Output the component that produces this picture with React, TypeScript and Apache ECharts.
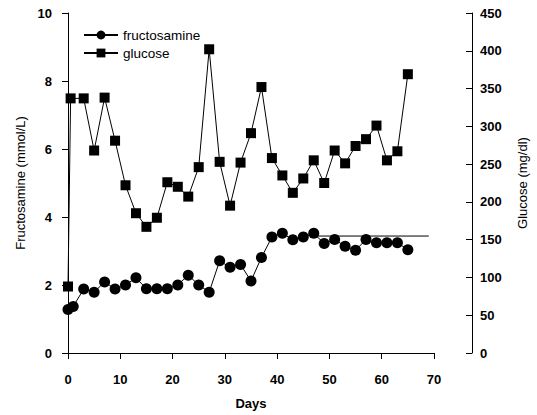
import React, { useEffect, useRef } from "react";
import * as echarts from "echarts";

const fructoDays = [0, 1, 3, 5, 7, 9, 11, 13, 15, 17, 19, 21, 23, 25, 27, 29, 31, 33, 35, 37, 39, 41, 43, 45, 47, 49, 51, 53, 55, 57, 59, 61, 63, 65];
const fructosamine = [1.28, 1.37, 1.88, 1.79, 2.09, 1.88, 2.0, 2.21, 1.89, 1.89, 1.89, 2.0, 2.29, 2.0, 1.79, 2.71, 2.52, 2.6, 2.12, 2.81, 3.41, 3.52, 3.33, 3.41, 3.52, 3.22, 3.34, 3.14, 3.02, 3.34, 3.24, 3.24, 3.24, 3.04];
const glucoseDays = [0, 0.5, 3, 5, 7, 9, 11, 13, 15, 17, 19, 21, 23, 25, 27, 29, 31, 33, 35, 37, 39, 41, 43, 45, 47, 49, 51, 53, 55, 57, 59, 61, 63, 65];
const glucose = [88, 337, 337, 268, 338, 281, 222, 185, 167, 179, 226, 220, 207, 246, 402, 253, 195, 252, 291, 352, 258, 235, 212, 231, 255, 225, 268, 251, 274, 283, 301, 255, 267, 369];
const refLineDays = [47, 69];
const refLineValue = 3.44;

const FONT = "Liberation Sans";

export default function App() {
  const ref = useRef<HTMLDivElement>(null);
  useEffect(() => {
    if (!ref.current) return;
    const chart = echarts.init(ref.current, undefined, { renderer: "svg" });
    const axisText = { color: "#000", fontFamily: FONT, fontSize: 13 };
    chart.setOption({
      animation: false,
      backgroundColor: "#fff",
      grid: { left: 68, right: 103, top: 13, bottom: 58 },
      legend: {
        data: ["fructosamine", "glucose"],
        orient: "vertical",
        left: 78,
        top: 23,
        itemWidth: 34,
        itemHeight: 11,
        itemGap: 4,
        textStyle: { color: "#000", fontFamily: FONT, fontSize: 13.5 },
      },
      xAxis: {
        type: "value",
        min: 0,
        max: 70,
        interval: 10,
        name: "Days",
        nameLocation: "middle",
        nameGap: 44,
        nameTextStyle: { ...axisText, fontSize: 13, fontWeight: "bold" },
        axisLine: { lineStyle: { color: "#000", width: 1 } },
        axisTick: { length: 6, lineStyle: { color: "#000" } },
        axisLabel: { ...axisText, margin: 20, fontWeight: "bold" },
        splitLine: { show: false },
      },
      yAxis: [
        {
          type: "value",
          min: 0,
          max: 10,
          interval: 2,
          position: "left",
          name: "Fructosamine (mmol/L)",
          nameLocation: "middle",
          nameGap: 40,
          nameTextStyle: { ...axisText, fontSize: 13 },
          axisLine: { show: true, lineStyle: { color: "#000", width: 1 } },
          axisTick: { show: true, length: 6, lineStyle: { color: "#000" } },
          axisLabel: { ...axisText, margin: 16, fontWeight: "bold" },
          splitLine: { show: false },
        },
        {
          type: "value",
          min: 0,
          max: 450,
          interval: 50,
          position: "right",
          offset: 38,
          name: "Glucose (mg/dl)",
          nameLocation: "middle",
          nameGap: 44,
          nameTextStyle: { ...axisText, fontSize: 13 },
          axisLine: { show: true, lineStyle: { color: "#000", width: 1 } },
          axisTick: { show: true, inside: true, length: 6, lineStyle: { color: "#000" } },
          axisLabel: { ...axisText, margin: 8, fontWeight: "bold" },
          splitLine: { show: false },
        },
      ],
      series: [
        {
          name: "fructosamine",
          type: "line",
          yAxisIndex: 0,
          data: fructoDays.map((d, i) => [d, fructosamine[i]]),
          symbol: "circle",
          symbolSize: 11,
          itemStyle: { color: "#000" },
          lineStyle: { color: "#000", width: 1 },
          z: 3,
        },
        {
          name: "glucose",
          type: "line",
          yAxisIndex: 1,
          data: glucoseDays.map((d, i) => [d, glucose[i]]),
          symbol: "rect",
          symbolSize: 10,
          itemStyle: { color: "#000" },
          lineStyle: { color: "#000", width: 1 },
          z: 3,
        },
        {
          name: "reference",
          type: "line",
          yAxisIndex: 0,
          data: refLineDays.map((d) => [d, refLineValue]),
          symbol: "none",
          lineStyle: { color: "#000", width: 1 },
          z: 2,
        },
      ],
    });
    return () => chart.dispose();
  }, []);
  return (
    <div
      ref={ref}
      style={{ position: "fixed", left: 0, top: 0, width: 537, height: 415, background: "#fff" }}
    />
  );
}
